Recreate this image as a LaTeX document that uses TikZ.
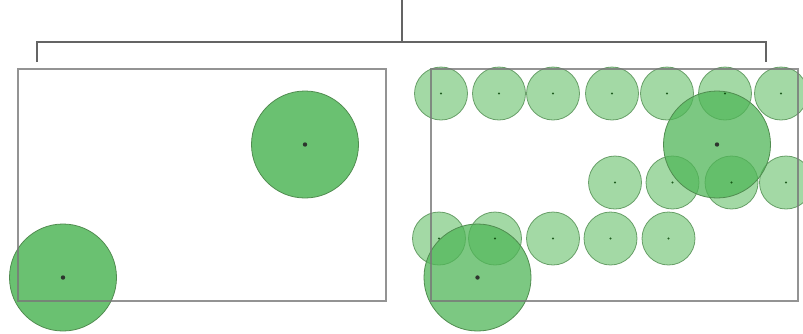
\documentclass[tikz,border=0pt]{standalone}
\definecolor{bigfill}{RGB}{80,182,88}
\definecolor{smallfill}{RGB}{96,190,100}
\definecolor{ringcol}{RGB}{80,140,80}
\definecolor{framecol}{RGB}{120,120,120}
\definecolor{bracketcol}{RGB}{100,100,100}
\tikzset{
  bigc/.style={circle, draw=ringcol, line width=0.8pt, fill=bigfill, fill opacity=0.85, inner sep=0pt, minimum size=107pt},
  smallc/.style={circle, draw=ringcol, draw opacity=0.8, line width=0.8pt, fill=smallfill, fill opacity=0.58, inner sep=0pt, minimum size=53pt},
  frame/.style={draw=framecol, draw opacity=0.8, line width=1.3pt},
  bracket/.style={draw=bracketcol, line width=2pt},
  bigdot/.style={fill=black!85, opacity=0.9},
  smalldot/.style={fill=black!60!green!60!black, opacity=0.8}
}
\begin{document}
\begin{tikzpicture}[x=1pt,y=-1pt]
\useasboundingbox (0,0) rectangle (803,333);
% bracket
\coordinate (top) at (402,0);
\coordinate (mid) at (402,42);
\coordinate (bl) at (37,42);
\coordinate (br) at (766,42);
\coordinate (blt) at (37,62);
\coordinate (brt) at (766,62);
\draw[bracket] (top) -- (mid);
\draw[bracket] (blt) -- (bl) -- (br) -- (brt);
% left big circles
\node[bigc] (L1) at (305,144.5) {};
\node[bigc] (L2) at (63,277.5) {};
% right small circles
\foreach \n/\x/\y in {a1/441/93.5, a2/499/93.5, a3/553/93.5, a4/612/93.5, a5/667/93.5, a6/725/93.5, a7/781/93.5,
  b1/615/182.5, b2/672.5/182.5, b3/731.5/182.5, b4/786/182.5,
  c1/439/238.5, c2/495/238.5, c3/553/238.5, c4/610.5/238.5, c5/668.5/238.5} {
  \node[smallc] (\n) at (\x,\y) {};
}
% right big circles
\node[bigc, fill opacity=0.75] (R1) at (717,144.5) {};
\node[bigc, fill opacity=0.75] (R2) at (477.5,277.5) {};
% frames, seen through the circles
\draw[frame] (18,69) rectangle (386,301);
\draw[frame] (431,69) rectangle (798,301);
% centre dots
\foreach \n in {a1,a2,a3,a4,a5,a6,a7,b1,b2,b3,b4,c1,c2,c3,c4,c5} {
  \fill[smalldot] (\n.center) circle (1.2pt);
}
\foreach \n in {L1,L2,R1,R2} {
  \fill[bigdot] (\n.center) circle (2.2pt);
}
\end{tikzpicture}
\end{document}
